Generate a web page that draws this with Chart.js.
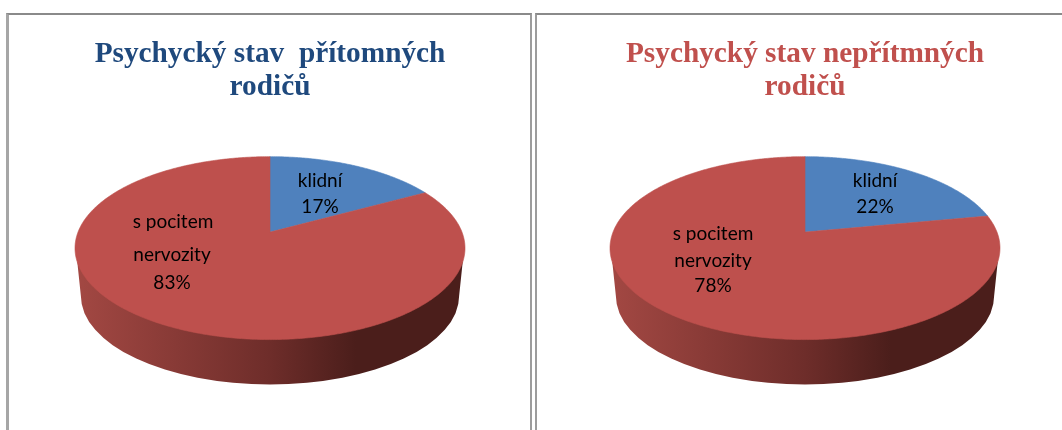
<!DOCTYPE html>
<html><head><meta charset="utf-8">
<script src="https://cdn.jsdelivr.net/npm/chart.js@4"></script>
<style>
html,body{margin:0;padding:0;background:#fff;overflow:hidden;width:1062px;height:430px}
.frame{position:absolute;top:13px;height:440px;box-sizing:border-box;border-top:2px solid #8a8a8a}
canvas{position:absolute;top:0}
</style></head><body>
<div class="frame" style="left:6px;width:526px;border-left:3px solid #a6a6a6;border-right:2px solid #9c9c9c"></div>
<div class="frame" style="left:535px;width:540px;border-left:2px solid #9c9c9c"></div>
<canvas id="a" width="540" height="430" style="left:0;width:540px;height:430px"></canvas>
<canvas id="b" width="514" height="430" style="left:548px;width:514px;height:430px"></canvas>
<script>
const categories = ['klidní', 's pocitem nervozity'];
const presentValues = [17, 83];
const absentValues = [22, 78];
const presentTitle = ['Psychycký stav  přítomných', 'rodičů'];
const absentTitle = ['Psychycký stav nepřítmných', 'rodičů'];
const sliceColors = ['#4F81BD', '#BE504D'];

const SQUASH = 0.469, PERSP = 0.175, DEPTH = 45, BOTTOM_SHRINK = 0.97, WALL_TOP = 14;

function project(el, a) {
  const u = Math.cos(a), v = Math.sin(a), w = 1 - PERSP * v;
  const rx = el.outerRadius;
  return [el.x + rx * u * Math.sqrt(1 - PERSP * PERSP) / w,
          el.y + rx * SQUASH * (v - PERSP) / w];
}
Chart.ArcElement.prototype.draw = function (ctx) {
  const apexY = this.y - this.outerRadius * SQUASH * PERSP;
  ctx.save();
  ctx.beginPath();
  ctx.moveTo(this.x, apexY);
  const steps = Math.max(2, Math.ceil((this.endAngle - this.startAngle) * 90));
  for (let i = 0; i <= steps; i++) {
    const p = project(this, this.startAngle + (this.endAngle - this.startAngle) * i / steps);
    ctx.lineTo(p[0], p[1]);
  }
  ctx.closePath();
  ctx.fillStyle = this.options.backgroundColor;
  ctx.strokeStyle = this.options.backgroundColor;
  ctx.lineWidth = 0.6;
  ctx.fill();
  ctx.stroke();
  ctx.restore();
};

const wall = {
  id: 'wall',
  beforeDatasetsDraw(chart) {
    const el = chart.getDatasetMeta(0).data[0];
    const {ctx} = chart, rx = el.outerRadius, ry = rx * SQUASH;
    const brx = rx * BOTTOM_SHRINK, by = el.y + DEPTH + ry - ry * BOTTOM_SHRINK;
    const topX = rx * Math.sqrt(1 - Math.pow(WALL_TOP / ry, 2));
    const g = ctx.createLinearGradient(el.x - rx, 0, el.x + rx, 0);
    g.addColorStop(0, '#A34843');
    g.addColorStop(0.5, '#6E2D2A');
    g.addColorStop(0.72, '#4B1E1B');
    g.addColorStop(1, '#4B1E1B');
    ctx.save();
    ctx.beginPath();
    ctx.moveTo(el.x - topX, el.y + WALL_TOP);
    ctx.ellipse(el.x, by, brx, ry * BOTTOM_SHRINK, 0, Math.PI, 0, true);
    ctx.lineTo(el.x + topX, el.y + WALL_TOP);
    ctx.closePath();
    ctx.fillStyle = g;
    ctx.fill();
    ctx.restore();
  }
};

const labelText = {
  id: 'labelText',
  afterDatasetsDraw(chart, args, opts) {
    const {ctx} = chart;
    ctx.save();
    ctx.font = '19px Lato';
    ctx.fillStyle = '#000';
    ctx.textAlign = 'center';
    ctx.textBaseline = 'middle';
    opts.items.forEach(it => ctx.fillText(it[0], it[1], it[2]));
    ctx.restore();
  }
};

function build(id, values, title, color, items) {
  new Chart(document.getElementById(id), {
    type: 'pie',
    data: {labels: categories, datasets: [{data: values, backgroundColor: sliceColors, borderWidth: 0, radius: 195}]},
    plugins: [wall, labelText],
    options: {
      responsive: false, animation: false,
      layout: {padding: {top: 0, bottom: 38, left: 0, right: 0}},
      plugins: {
        legend: {display: false}, tooltip: {enabled: false},
        title: {display: true, text: title, color: color,
          font: {family: '"Liberation Serif"', size: 29.3, weight: 'bold', lineHeight: 1.13},
          padding: {top: 38, bottom: 0}},
        labelText: {items: items}
      }
    }
  });
}
function lines(values, i) {
  const pct = values[i] + '%';
  return i === 0 ? [categories[0], pct] : ['s pocitem', 'nervozity', pct];
}
const pl = lines(presentValues, 0), pr = lines(presentValues, 1);
const al = lines(absentValues, 0), ar = lines(absentValues, 1);
build('a', presentValues, presentTitle, '#1F497D', [
  [pl[0], 320, 181], [pl[1], 320, 207], [pr[0], 173, 222], [pr[1], 172, 255], [pr[2], 172, 283]]);
build('b', absentValues, absentTitle, '#C0504D', [
  [al[0], 327, 181], [al[1], 327, 207], [ar[0], 165, 234], [ar[1], 165, 261], [ar[2], 165, 286]]);
</script>
</body></html>
